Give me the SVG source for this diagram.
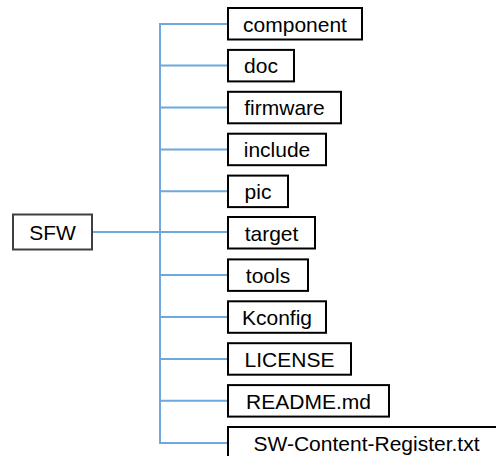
<svg xmlns="http://www.w3.org/2000/svg" width="496" height="456" viewBox="0 0 496 456">
<style>
.box{fill:#ffffff;stroke:#000000;stroke-width:2}
.root{fill:#ffffff;stroke:#404040;stroke-width:2}
.lbl{font-family:"Liberation Sans",Arial,sans-serif;font-size:21px;fill:#000000;text-anchor:middle}
.con{fill:none;stroke:#6fa8dc;stroke-width:2}
</style>
<rect width="496" height="456" fill="#ffffff"/>
<g id="connectors">
<path class="con" d="M92 232H228"/>
<path class="con" d="M228 24H160V443H228"/>
<path class="con" d="M160 65.6H228M160 107.5H228M160 149.4H228M160 191.3H228M160 275.1H228M160 317H228M160 358.9H228M160 400.8H228"/>
</g>
<g id="SFW"><rect class="root" x="13" y="214.5" width="79" height="35"/><text class="lbl" x="52.5" y="239.5">SFW</text></g>
<g id="component"><rect class="box" x="228" y="8" width="134" height="31.5"/><text class="lbl" x="295" y="31.5">component</text></g>
<g id="doc"><rect class="box" x="228" y="49.9" width="66" height="31.5"/><text class="lbl" x="261" y="73.4">doc</text></g>
<g id="firmware"><rect class="box" x="228" y="91.8" width="113" height="31.5"/><text class="lbl" x="284.5" y="115.3">firmware</text></g>
<g id="include"><rect class="box" x="228" y="133.7" width="98" height="31.5"/><text class="lbl" x="277" y="157.2">include</text></g>
<g id="pic"><rect class="box" x="228" y="175.6" width="60" height="31.5"/><text class="lbl" x="258" y="199.1">pic</text></g>
<g id="target"><rect class="box" x="228" y="217" width="87" height="31.5"/><text class="lbl" x="271.5" y="240.5">target</text></g>
<g id="tools"><rect class="box" x="228" y="259.4" width="80" height="31.5"/><text class="lbl" x="268" y="282.9">tools</text></g>
<g id="Kconfig"><rect class="box" x="228" y="301.3" width="98" height="31.5"/><text class="lbl" x="277" y="324.8">Kconfig</text></g>
<g id="LICENSE"><rect class="box" x="228" y="343.2" width="123" height="31.5"/><text class="lbl" x="289.5" y="366.7">LICENSE</text></g>
<g id="README"><rect class="box" x="228" y="385.1" width="161" height="31.5"/><text class="lbl" x="308.5" y="408.6">README.md</text></g>
<g id="SW-Content-Register"><rect class="box" x="228" y="427" width="277" height="31.5"/><text class="lbl" x="366.5" y="450.5">SW-Content-Register.txt</text></g>
</svg>
